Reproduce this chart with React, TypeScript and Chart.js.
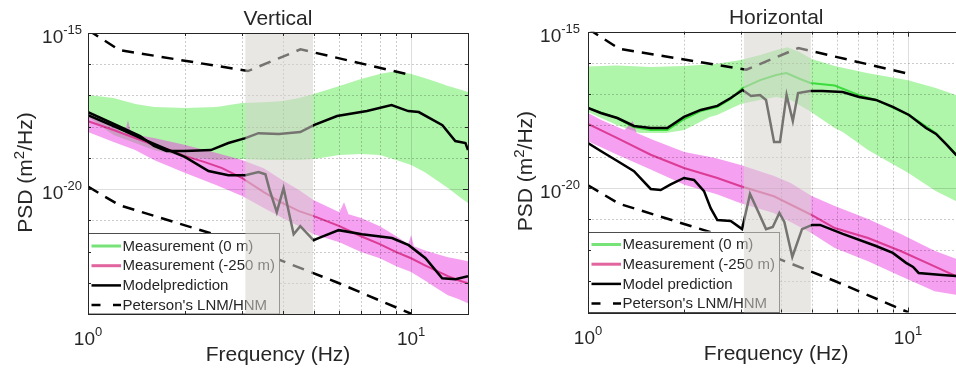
import React, { useEffect, useRef } from "react";
import { Chart, registerables } from "chart.js";

Chart.register(...registerables);

const FONT = '"Liberation Sans", Arial, Helvetica, sans-serif';
const TEXT = "#262626";

// ---------- axes ----------
const X_MIN = 1;
const X_MAX = 15;
const Y_MIN = 1e-24;
const Y_MAX = 1e-15;
const X_MAJOR = [1, 10];
const X_MAJOR_EXP = ["0", "1"];
const X_MINOR = [2, 3, 4, 5, 6, 7, 8, 9];
const Y_DECADES = [1e-23, 1e-22, 1e-21, 1e-20, 1e-19, 1e-18, 1e-17, 1e-16];
const Y_MAJOR = [1e-15, 1e-20];
const Y_MAJOR_EXP = ["-15", "-20"];
const SHADE_BAND = [3.07, 4.97];

const LEGEND_V = ["Measurement (0 m)", "Measurement (-250 m)", "Modelprediction", "Peterson's LNM/HNM"];
const LEGEND_H = ["Measurement (0 m)", "Measurement (-250 m)", "Model prediction", "Peterson's LNM/HNM"];

// ---------- Peterson noise models (shared) ----------
const HNM_F = [1, 1.25, 3.125, 4.545, 10];
const HNM_PSD = [1.25e-15, 2.85e-16, 6.05e-17, 3.0e-16, 4.5e-17];
const LNM_F = [1, 1.25, 2.5, 5.88, 10];
const LNM_PSD = [1.2e-20, 3.07e-21, 3.36e-22, 1.04e-23, 1.02e-24];

// ---------- Vertical ----------
const V_G_UP_F = [1, 1.2, 1.4, 1.6, 2, 2.5, 3, 3.5, 4, 4.5, 5, 6, 7, 8, 9, 10, 11, 12, 13, 14, 15];
const V_G_UP = [1.03e-17, 8.3e-18, 5.3e-18, 4.25e-18, 3.95e-18, 4.25e-18, 5.7e-18, 6.1e-18, 6.6e-18, 8.3e-18, 1.11e-17, 2.0e-17, 3.36e-17, 4.85e-17, 6.05e-17, 4.85e-17, 3.6e-17, 2.7e-17, 2.0e-17, 1.6e-17, 1.29e-17];
const V_G_LO_F = [1, 1.2, 1.4, 1.6, 2, 2.5, 3, 3.5, 4, 4.5, 5, 6, 7, 8, 9, 10, 11, 12, 13, 14, 15];
const V_G_LO = [2.03e-18, 5.4e-19, 3.0e-19, 1.78e-19, 1.06e-19, 8.5e-20, 9.2e-20, 8.5e-20, 8.5e-20, 8.5e-20, 9.2e-20, 1.23e-19, 1.32e-19, 1.23e-19, 8.5e-20, 5.9e-20, 3.5e-20, 1.94e-20, 1.08e-20, 6.0e-21, 3.56e-21];

const V_M_UP_F = [1, 1.2, 1.3, 1.33, 1.36, 1.6, 2, 2.5, 3, 3.5, 4, 4.5, 5, 6, 6.2, 6.4, 7, 8, 9, 9.8, 10, 10.2, 11, 12, 13, 14, 15];
const V_M_UP = [2.54e-18, 9.7e-19, 6.2e-19, 1.63e-18, 5.8e-19, 4.3e-19, 2.57e-19, 1.43e-19, 8.5e-20, 4.7e-20, 1.94e-20, 9.3e-21, 4.4e-21, 1.83e-21, 3.8e-21, 1.58e-21, 1.18e-21, 6.5e-22, 3.1e-22, 1.73e-22, 3.4e-22, 1.49e-22, 1.11e-22, 8.3e-23, 6.6e-23, 5.7e-23, 4.9e-23];
const V_M_LO_F = [1, 1.2, 1.4, 1.6, 2, 2.5, 3, 3.5, 4, 4.5, 5, 6, 7, 8, 9, 10, 11, 12, 13, 14, 15];
const V_M_LO = [6.7e-19, 3.2e-19, 1.78e-19, 8.5e-20, 3.3e-20, 1.34e-20, 6.0e-21, 2.5e-21, 1.18e-21, 6.5e-22, 3.6e-22, 2.0e-22, 9.6e-23, 6.1e-23, 3.4e-23, 2.2e-23, 1.21e-23, 6.7e-24, 4.0e-24, 3.0e-24, 2.2e-24];
const V_M_MEAN_F = [1, 1.2, 1.4, 1.6, 1.8, 2, 2.3, 2.6, 3, 3.5, 4, 4.5, 5, 6, 7, 8, 9, 10, 11, 12, 13, 14, 15];
const V_M_MEAN = [1.51e-18, 7.8e-19, 4.3e-19, 2.57e-19, 1.78e-19, 1.14e-19, 7.3e-20, 4.7e-20, 2.25e-20, 8.0e-21, 3.56e-21, 1.97e-21, 1.36e-21, 6.5e-22, 3.1e-22, 1.73e-22, 9.6e-23, 6.1e-23, 3.7e-23, 2.4e-23, 1.63e-23, 1.21e-23, 9.7e-24];

const V_MOD0_F = [1, 1.24, 1.45, 1.6, 1.75, 2.0, 2.4, 2.72, 3.07, 3.37, 3.9, 4.54, 5.0, 5.9, 7.3, 8.7, 9.8, 10.56, 12.5, 13.7, 14.73, 15];
const V_MOD0 = [2.94e-18, 1.05e-18, 5.0e-19, 2.4e-19, 1.65e-19, 1.65e-19, 1.78e-19, 3.0e-19, 4.3e-19, 6.2e-19, 5.8e-19, 6.7e-19, 1.12e-18, 2.2e-18, 3.16e-18, 4.9e-18, 3.16e-18, 2.94e-18, 1.12e-18, 3.45e-19, 3.0e-19, 1.78e-19];
const V_MOD250_F = [1, 1.24, 1.575, 2, 2.36, 2.72, 3.07, 3.37, 3.54, 3.65, 3.84, 4.03, 4.33, 4.54, 4.99, 5.17, 5.97, 7.05, 8.73, 9.83, 11.08, 12.48, 13.72, 15];
const V_MOD250 = [2.36e-18, 9.0e-19, 3.0e-19, 1.06e-19, 3.8e-20, 2.8e-20, 2.8e-20, 3.5e-20, 3.0e-20, 9.3e-21, 1.83e-21, 1.08e-20, 3.6e-22, 6.5e-22, 2.3e-22, 2.7e-22, 4.85e-22, 3.6e-22, 2.7e-22, 1.6e-22, 6.1e-23, 1.4e-23, 1.3e-23, 1.63e-23];

// ---------- Horizontal ----------
const H_G_UP_F = [1, 1.23, 1.57, 2, 2.5, 3, 3.45, 3.87, 4.2, 4.6, 5, 5.9, 7.5, 10, 12.2, 14.1, 15];
const H_G_UP = [7.7e-17, 8.3e-17, 7.4e-17, 8.0e-17, 9.2e-17, 1.24e-16, 1.79e-16, 2.6e-16, 3.2e-16, 2.2e-16, 1.33e-16, 8.0e-17, 4.7e-17, 2.8e-17, 1.57e-17, 9.4e-18, 8.1e-18];
const H_G_LO_F = [1, 1.23, 1.45, 1.75, 2, 2.4, 2.53, 3, 3.45, 3.87, 4.3, 4.98, 5.9, 6.25, 7.5, 8.5, 10, 12.2, 14.1, 15];
const H_G_LO = [2.67e-18, 1.02e-18, 5.7e-19, 5.7e-19, 7.1e-19, 1.85e-18, 2.14e-18, 4.8e-18, 6.5e-18, 8.1e-18, 6.5e-18, 2.67e-18, 8.2e-19, 6.1e-19, 1.61e-19, 7.7e-20, 3.0e-20, 7.8e-21, 3.75e-21, 3.0e-21];
const H_G_MEAN_F = [1, 1.23, 1.39, 1.57, 1.77, 2.0, 2.25, 2.54, 2.79, 3.04, 3.45, 3.87, 4.17, 4.6, 4.95, 5.9, 7.0, 7.94, 10.07, 12.2, 14.1, 15];
const H_G_MEAN = [3.6e-18, 1.71e-18, 8.8e-19, 7.1e-19, 7.1e-19, 1.59e-18, 2.87e-18, 3.9e-18, 7.0e-18, 1.57e-17, 2.8e-17, 4.1e-17, 4.7e-17, 3.05e-17, 2.27e-17, 1.89e-17, 9.4e-18, 6.5e-18, 2.14e-18, 5.7e-19, 1.2e-19, 9.6e-20];

const H_M_UP_F = [1, 1.1, 1.3, 1.38, 1.42, 1.6, 2, 2.5, 3, 3.8, 4.3, 5, 5.9, 7.5, 9.5, 12.1, 14.1, 15];
const H_M_UP = [2.48e-18, 1.48e-18, 7.1e-19, 1.37e-18, 5.7e-19, 3.4e-19, 1.39e-19, 9.0e-20, 5.3e-20, 2.4e-20, 1.42e-20, 5.4e-21, 2.6e-21, 9.9e-22, 3.3e-22, 9.6e-23, 5.3e-23, 4.3e-23];
const H_M_LO_F = [1, 1.235, 1.57, 2, 2.54, 3, 3.8, 5, 5.9, 7.5, 9.5, 12.1, 14.1, 15];
const H_M_LO = [3.1e-19, 1.14e-19, 3.8e-20, 1.25e-20, 6.0e-21, 3.2e-21, 1.55e-21, 3.5e-22, 1.17e-22, 4.4e-23, 1.45e-23, 4.8e-24, 3.7e-24, 3.1e-24];
const H_M_MEAN_F = [1, 1.235, 1.57, 1.995, 2.536, 3.0, 3.81, 4.98, 5.9, 7.5, 9.52, 12.1, 14.13, 15];
const H_M_MEAN = [1.1e-18, 3.9e-19, 1.14e-19, 4.3e-20, 2.05e-20, 1.11e-20, 5.3e-21, 1.36e-21, 5.1e-22, 2.44e-22, 9.2e-23, 3.0e-23, 1.45e-23, 1.19e-23];

const H_MOD0_F = [1.0, 1.096, 1.235, 1.392, 1.57, 1.769, 1.995, 2.25, 2.536, 2.792, 3.04, 3.232, 3.447, 3.6, 3.814, 3.98, 4.173, 4.365, 4.532, 4.941, 5.386, 6.25, 7.03, 7.94, 8.96, 10.07, 11.38, 12.23, 13.15, 14.13, 15];
const H_MOD0 = [3.6e-18, 2.48e-18, 1.71e-18, 9.5e-19, 8.2e-19, 8.2e-19, 1.85e-18, 3.1e-18, 4.2e-18, 7.5e-18, 1.35e-17, 8.7e-18, 9.4e-18, 6.5e-18, 2.9e-19, 2.9e-19, 9.4e-18, 1.37e-18, 1.08e-17, 1.26e-17, 1.26e-17, 1.17e-17, 8.1e-18, 6.5e-18, 3.9e-18, 2.14e-18, 8.2e-19, 5.3e-19, 2.5e-19, 1.12e-19, 9.0e-20];
const H_MOD250_F = [1.0, 1.096, 1.235, 1.392, 1.57, 1.687, 1.813, 1.995, 2.144, 2.304, 2.417, 2.536, 2.792, 3.03, 3.208, 3.406, 3.6, 3.778, 3.962, 4.107, 4.349, 4.664, 5.012, 5.309, 6.25, 7.94, 8.96, 9.86, 10.37, 10.79, 12.77, 14.13, 15];
const H_MOD250 = [2.7e-19, 1.5e-19, 7.2e-20, 3.4e-20, 9.1e-21, 8.4e-21, 1.27e-20, 2.05e-20, 1.77e-20, 7.8e-21, 2.2e-21, 9.2e-22, 8.6e-22, 4.7e-22, 6.3e-21, 1.66e-21, 4.7e-22, 5.5e-22, 1.55e-21, 8.0e-22, 6.0e-23, 4.7e-22, 6.4e-22, 6.4e-22, 3.3e-22, 1.35e-22, 8.1e-23, 3.9e-23, 2.9e-23, 1.85e-23, 1.59e-23, 1.48e-23, 1.37e-23];

// ---------- helpers ----------
const pts = (f: number[], v: number[]) => f.map((x, i) => ({ x, y: v[i] }));
const band = (fu: number[], vu: number[], fl: number[], vl: number[]) => [...pts(fu, vu), ...pts(fl, vl).reverse()];

type PanelCfg = {
  title: string;
  legend: string[];
  gUpF: number[]; gUp: number[]; gLoF: number[]; gLo: number[];
  gMeanF?: number[]; gMean?: number[];
  mUpF: number[]; mUp: number[]; mLoF: number[]; mLo: number[];
  mMeanF: number[]; mMean: number[];
  m0F: number[]; m0: number[]; m250F: number[]; m250: number[];
  canvasLeft: number; canvasWidth: number;
  padTop: number; padRight: number; yW: number; xH: number; yLabelGap: number;
};

const VERTICAL: PanelCfg = {
  title: "Vertical", legend: LEGEND_V,
  gUpF: V_G_UP_F, gUp: V_G_UP, gLoF: V_G_LO_F, gLo: V_G_LO,
  mUpF: V_M_UP_F, mUp: V_M_UP, mLoF: V_M_LO_F, mLo: V_M_LO,
  mMeanF: V_M_MEAN_F, mMean: V_M_MEAN,
  m0F: V_MOD0_F, m0: V_MOD0, m250F: V_MOD250_F, m250: V_MOD250,
  canvasLeft: 0, canvasWidth: 478, padTop: 33, padRight: 10, yW: 88, xH: 58, yLabelGap: 6,
};

const HORIZONTAL: PanelCfg = {
  title: "Horizontal", legend: LEGEND_H,
  gUpF: H_G_UP_F, gUp: H_G_UP, gLoF: H_G_LO_F, gLo: H_G_LO,
  gMeanF: H_G_MEAN_F, gMean: H_G_MEAN,
  mUpF: H_M_UP_F, mUp: H_M_UP, mLoF: H_M_LO_F, mLo: H_M_LO,
  mMeanF: H_M_MEAN_F, mMean: H_M_MEAN,
  m0F: H_MOD0_F, m0: H_MOD0, m250F: H_MOD250_F, m250: H_MOD250,
  canvasLeft: 478, canvasWidth: 500, padTop: 31.7, padRight: 13.6, yW: 110, xH: 59.5, yLabelGap: 8,
};

function buildDatasets(p: PanelCfg) {
  const ds: any[] = [];
  ds.push({ data: band(p.gUpF, p.gUp, p.gLoF, p.gLo), fill: "shape", backgroundColor: "rgba(95,235,85,0.5)", borderColor: "transparent", borderWidth: 0, order: 10 });
  ds.push({ data: band(p.mUpF, p.mUp, p.mLoF, p.mLo), fill: "shape", backgroundColor: "rgba(235,65,225,0.5)", borderColor: "transparent", borderWidth: 0, order: 9 });
  ds.push({ data: pts(p.mMeanF, p.mMean), borderColor: "#dc3c96", borderWidth: 2, order: 8 });
  if (p.gMeanF && p.gMean) ds.push({ data: pts(p.gMeanF, p.gMean), borderColor: "#3cdc3c", borderWidth: 2, order: 7 });
  ds.push({ data: pts(HNM_F, HNM_PSD), borderColor: "#000", borderWidth: 2.5, borderDash: [12, 8], order: 6 });
  ds.push({ data: pts(LNM_F, LNM_PSD), borderColor: "#000", borderWidth: 2.5, borderDash: [12, 8], order: 5 });
  ds.push({ data: pts(p.m0F, p.m0), borderColor: "#000", borderWidth: 2.5, order: 2 });
  ds.push({ data: pts(p.m250F, p.m250), borderColor: "#000", borderWidth: 2.5, order: 1 });
  return ds.map((d) => ({ pointRadius: 0, tension: 0, clip: 0, fill: false, ...d }));
}

function drawPow(ctx: CanvasRenderingContext2D, exp: string, x: number, baseY: number, align: "center" | "right") {
  ctx.font = `19px ${FONT}`;
  const wb = ctx.measureText("10").width;
  ctx.font = `13px ${FONT}`;
  const we = ctx.measureText(exp).width;
  const total = wb + we;
  const x0 = align === "center" ? x - total / 2 : x - total;
  ctx.textAlign = "left";
  ctx.textBaseline = "alphabetic";
  ctx.fillStyle = TEXT;
  ctx.font = `19px ${FONT}`;
  ctx.fillText("10", x0, baseY);
  ctx.font = `13px ${FONT}`;
  ctx.fillText(exp, x0 + wb, baseY - 9);
}

function makePlugin(p: PanelCfg) {
  return {
    id: "panelDecor",
    afterDatasetsDraw(chart: any) {
      const { ctx, chartArea: ca, scales } = chart;
      const xs = scales.x;
      const ys = scales.y;
      // grid (on top of data, like MATLAB)
      ctx.save();
      ctx.beginPath();
      ctx.rect(ca.left, ca.top, ca.right - ca.left, ca.bottom - ca.top);
      ctx.clip();
      ctx.lineWidth = 1;
      [...X_MINOR, 10].forEach((f) => {
        const px = Math.round(xs.getPixelForValue(f)) + 0.5;
        ctx.strokeStyle = f === 10 ? "rgba(0,0,0,0.13)" : "rgba(0,0,0,0.2)";
        ctx.setLineDash(f === 10 ? [] : [2, 2]);
        ctx.beginPath();
        ctx.moveTo(px, ca.top);
        ctx.lineTo(px, ca.bottom);
        ctx.stroke();
      });
      Y_DECADES.forEach((v) => {
        const py = Math.round(ys.getPixelForValue(v)) + 0.5;
        const major = v === 1e-20;
        ctx.strokeStyle = major ? "rgba(0,0,0,0.13)" : "rgba(0,0,0,0.2)";
        ctx.setLineDash(major ? [] : [2, 2]);
        ctx.beginPath();
        ctx.moveTo(ca.left, py);
        ctx.lineTo(ca.right, py);
        ctx.stroke();
      });
      ctx.restore();

      // legend
      ctx.save();
      const lx = ca.left;
      const lb = ca.bottom;
      const lt = lb - 81;
      const lw = 191;
      ctx.fillStyle = "#fff";
      ctx.fillRect(lx, lt, lw, lb - lt);
      ctx.strokeStyle = "#4d4d4d";
      ctx.lineWidth = 1;
      ctx.strokeRect(lx + 0.5, Math.round(lt) + 0.5, lw, lb - Math.round(lt) - 0.5);
      const sampleColors = ["#77e277", "#e2649e", "#000", "#000"];
      p.legend.forEach((label, i) => {
        const y = lt + 13 + 19.7 * i;
        ctx.strokeStyle = sampleColors[i];
        ctx.lineWidth = i < 2 ? 3 : 2.5;
        ctx.setLineDash([]);
        ctx.beginPath();
        if (i === 3) {
          ctx.moveTo(lx + 3.5, y);
          ctx.lineTo(lx + 12.5, y);
          ctx.moveTo(lx + 25, y);
          ctx.lineTo(lx + 33, y);
        } else {
          ctx.moveTo(lx + 3.5, y);
          ctx.lineTo(lx + 33, y);
        }
        ctx.stroke();
        ctx.fillStyle = TEXT;
        ctx.font = `15px ${FONT}`;
        ctx.textAlign = "left";
        ctx.textBaseline = "middle";
        ctx.fillText(label, lx + 34.5, y + 0.5);
      });
      ctx.restore();

      // shaded frequency band (drawn on top of everything inside the axes)
      ctx.save();
      const sx0 = xs.getPixelForValue(SHADE_BAND[0]);
      const sx1 = xs.getPixelForValue(SHADE_BAND[1]);
      ctx.fillStyle = "rgba(215,212,205,0.55)";
      ctx.fillRect(sx0, ca.top, sx1 - sx0, ca.bottom - ca.top);
      ctx.restore();

      // axes box + tick marks
      ctx.save();
      ctx.strokeStyle = TEXT;
      ctx.lineWidth = 1;
      ctx.strokeRect(Math.round(ca.left) + 0.5, Math.round(ca.top) + 0.5, Math.round(ca.right) - Math.round(ca.left), Math.round(ca.bottom) - Math.round(ca.top));
      ctx.beginPath();
      [...X_MINOR, 10].forEach((f) => {
        const px = Math.round(xs.getPixelForValue(f)) + 0.5;
        const len = f === 10 ? 5 : 3;
        ctx.moveTo(px, ca.bottom);
        ctx.lineTo(px, ca.bottom - len);
        ctx.moveTo(px, ca.top);
        ctx.lineTo(px, ca.top + len);
      });
      Y_DECADES.forEach((v) => {
        const py = Math.round(ys.getPixelForValue(v)) + 0.5;
        const len = v === 1e-20 ? 5 : 3;
        ctx.moveTo(ca.left, py);
        ctx.lineTo(ca.left + len, py);
        ctx.moveTo(ca.right, py);
        ctx.lineTo(ca.right - len, py);
      });
      ctx.stroke();
      ctx.restore();

      // tick labels
      ctx.save();
      X_MAJOR.forEach((f, i) => {
        drawPow(ctx, X_MAJOR_EXP[i], xs.getPixelForValue(f), ca.bottom + 31, "center");
      });
      Y_MAJOR.forEach((v, i) => {
        drawPow(ctx, Y_MAJOR_EXP[i], ca.left - p.yLabelGap, ys.getPixelForValue(v) + 10, "right");
      });

      // title
      ctx.fillStyle = TEXT;
      ctx.textAlign = "center";
      ctx.textBaseline = "alphabetic";
      ctx.font = `21px ${FONT}`;
      const cx = (ca.left + ca.right) / 2;
      ctx.fillText(p.title, cx, ca.top - 8);
      // x title
      ctx.fillText("Frequency (Hz)", cx, ca.bottom + 47);
      // y title with superscript
      const cy = (ca.top + ca.bottom) / 2 - 1;
      ctx.translate(ca.left - 56, cy);
      ctx.rotate(-Math.PI / 2);
      const a = "PSD (m";
      const b = "2";
      const c = "/Hz)";
      ctx.font = `21px ${FONT}`;
      const wa = ctx.measureText(a).width;
      const wc = ctx.measureText(c).width;
      ctx.font = `15px ${FONT}`;
      const wbb = ctx.measureText(b).width;
      let x = -(wa + wbb + wc) / 2;
      ctx.textAlign = "left";
      ctx.font = `21px ${FONT}`;
      ctx.fillText(a, x, 0);
      x += wa;
      ctx.font = `15px ${FONT}`;
      ctx.fillText(b, x, -8);
      x += wbb;
      ctx.font = `21px ${FONT}`;
      ctx.fillText(c, x, 0);
      ctx.restore();
    },
  };
}

function Panel({ cfg }: { cfg: PanelCfg }) {
  const ref = useRef<HTMLCanvasElement | null>(null);
  useEffect(() => {
    if (!ref.current) return;
    const chart = new Chart(ref.current, {
      type: "line",
      data: { datasets: buildDatasets(cfg) },
      options: {
        animation: false,
        responsive: false,
        devicePixelRatio: 1,
        layout: { padding: { left: 0, right: cfg.padRight, top: cfg.padTop, bottom: 0 } },
        plugins: { legend: { display: false }, tooltip: { enabled: false }, title: { display: false } },
        elements: { point: { radius: 0 }, line: { tension: 0 } },
        scales: {
          x: {
            type: "logarithmic",
            min: X_MIN,
            max: X_MAX,
            ticks: { display: false },
            grid: { display: false },
            border: { display: false },
            afterFit: (s: any) => { s.height = cfg.xH; },
          },
          y: {
            type: "logarithmic",
            min: Y_MIN,
            max: Y_MAX,
            ticks: { display: false },
            grid: { display: false },
            border: { display: false },
            afterFit: (s: any) => { s.width = cfg.yW; },
          },
        },
      } as any,
      plugins: [makePlugin(cfg)],
    });
    return () => chart.destroy();
  }, [cfg]);
  return (
    <canvas
      ref={ref}
      width={cfg.canvasWidth}
      height={372}
      style={{ position: "absolute", left: cfg.canvasLeft, top: 0, width: cfg.canvasWidth, height: 372 }}
    />
  );
}

export default function App() {
  return (
    <div style={{ position: "absolute", left: 0, top: 0, width: 956, height: 372, overflow: "hidden", background: "#fff" }}>
      <Panel cfg={VERTICAL} />
      <Panel cfg={HORIZONTAL} />
    </div>
  );
}
